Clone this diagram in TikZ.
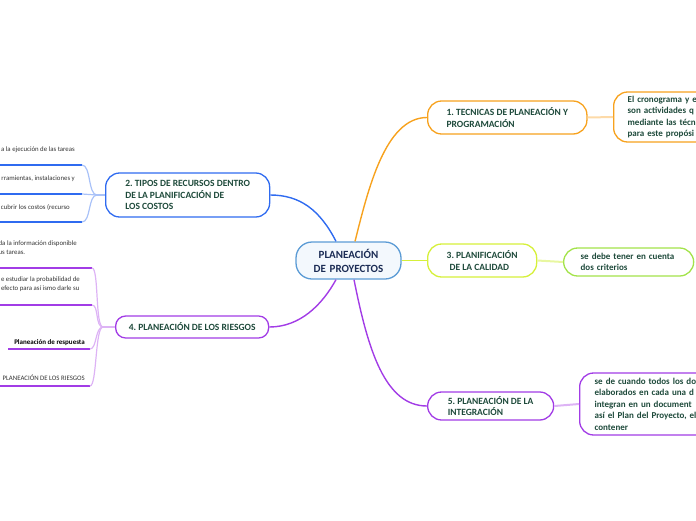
\documentclass[tikz,border=0pt]{standalone}
\usepackage{fontspec}
\setmainfont{Carlito}
\frenchspacing

\definecolor{txtgreen}{HTML}{1E4A3B}
\definecolor{navy}{HTML}{1B2C55}
\definecolor{cblue}{HTML}{5B9BD5}
\definecolor{cpale}{HTML}{F3F8FD}
\definecolor{borange}{HTML}{F7A21E}
\definecolor{lorange}{HTML}{FDDAA8}
\definecolor{byellow}{HTML}{D6F03A}
\definecolor{lyellow}{HTML}{E8F7A0}
\definecolor{bgreen}{HTML}{A3E34A}
\definecolor{bblue}{HTML}{2F6BF0}
\definecolor{lblue}{HTML}{A9C2F8}
\definecolor{bpurple}{HTML}{A23CE6}
\definecolor{lpurple}{HTML}{DDB3F5}

\tikzset{
  topic/.style={draw, fill=white, line width=1.3pt, rounded corners=14pt, anchor=west,
    align=left, text=txtgreen, inner xsep=19pt, font=\bfseries\fontsize{9.5}{11.5}\selectfont},
  detail/.style={topic, font=\bfseries\fontsize{9}{11.5}\selectfont},
  leaf/.style={anchor=east, inner sep=0pt, align=left, text=black!80,
    font=\fontsize{6.8}{9}\selectfont},
  branch/.style={line width=1.4pt},
  twig/.style={line width=1.2pt},
}

\begin{document}
\begin{tikzpicture}[x=1pt,y=-1pt]
  \useasboundingbox (0,0) rectangle (696,520);
  \clip (0,0) rectangle (696,520);

  % central topic and branches
  \node[topic, draw=cblue, fill=cpale, anchor=center, align=center, text=navy, inner xsep=4pt,
    text width=97pt, minimum height=37pt, rounded corners=16pt,
    font=\bfseries\fontsize{11}{14}\selectfont] (c) at (348.5,260.5) {PLANEACIÓN\\DE PROYECTOS};

  \node[topic, draw=borange, minimum width=158pt, minimum height=33pt] (n1) at (427,117.5)
    {1. TECNICAS DE PLANEACIÓN Y\\PROGRAMACIÓN};
  \node[topic, draw=bblue, minimum width=164pt, minimum height=44pt] (n2) at (105,195)
    {2. TIPOS DE RECURSOS DENTRO\\DE LA PLANIFICACIÓN DE\\LOS COSTOS};
  \node[topic, draw=byellow, minimum width=109pt, minimum height=33pt] (n3) at (427,260.5)
    {3. PLANIFICACIÓN\\\hspace*{3pt}DE LA CALIDAD};
  \node[topic, draw=bpurple, inner xsep=12pt, minimum width=153pt, minimum height=22pt,
    rounded corners=10pt] (n4) at (115,327) {4. PLANEACIÓN DE LOS RIESGOS};
  \node[topic, draw=bpurple, inner xsep=20pt, minimum width=126pt, minimum height=28pt] (n5) at (427,406)
    {5. PLANEACIÓN DE LA\\INTEGRACIÓN};

  \draw[branch, borange] ([xshift=6.5pt]c.north) .. controls (368,190) and (385,117.5) .. (n1.west);
  \draw[branch, bblue] ([xshift=-12.5pt]c.north) .. controls (320,210) and (300,195) .. (n2.east);
  \draw[branch, byellow] (c.east) -- (n3.west);
  \draw[branch, bpurple] ([xshift=-12.5pt]c.south) .. controls (322,305) and (300,327) .. (n4.east);
  \draw[branch, bpurple] ([xshift=5.5pt]c.south) .. controls (368,350) and (385,406) .. (n5.west);

  % right side details
  \node[detail, draw=borange, inner xsep=14pt, text width=120pt, minimum height=50pt] (k1) at (613,117)
    {El cronograma y e\\son actividades q\\mediante las técn\\para este propósi};
  \node[detail, draw=bgreen, inner xsep=17pt, text width=96pt, minimum height=28pt] (k3) at (563,262)
    {se debe tener en cuenta\\dos criterios};
  \node[detail, draw=bpurple, inner xsep=15pt, text width=120pt, minimum height=62pt] (k5) at (579,404)
    {se de cuando todos los do\\elaborados en cada una d\\integran en un document\\así el Plan del Proyecto, el\\contener};

  \draw[twig, line width=2pt, lorange] (n1.east) -- (k1.west);
  \draw[twig, line width=2pt, lyellow] (n3.east) -- (k3.west);
  \draw[twig, line width=2pt, lpurple] (n5.east) -- (k5.west);

  % left side details of 2
  \node[leaf] (a1) at (75,150) {a la ejecución de las tareas};
  \node[leaf] (a2) at (75,179) {rramientas, instalaciones y};
  \node[leaf] (a3) at (70,207) {cubrir los costos (recurso};
  \coordinate (j2) at (97,195);
  \coordinate (u21) at (82,165);
  \coordinate (u22) at (82,194);
  \coordinate (u23) at (82,222);
  \draw[line width=1.5pt, bblue] (-2,165) -- (u21);
  \draw[line width=1.5pt, bblue] (-2,194) -- (u22);
  \draw[line width=1.5pt, bblue] (-2,222) -- (u23);
  \draw[twig, lblue] (n2.west) -- (j2);
  \draw[twig, lblue] (j2) .. controls (88,195) and (91,165) .. (u21);
  \draw[twig, lblue] (j2) -- (u22);
  \draw[twig, lblue] (j2) .. controls (88,195) and (91,222) .. (u23);

  % left side details of 4
  \node[leaf] (b1) at (77,247.5) {da la información disponible\\us tareas.};
  \node[leaf] (b2) at (80,284.5) {e estudiar la probabilidad de\\efecto para así ismo darle su};
  \node[leaf, text=black, font=\bfseries\fontsize{7}{8}\selectfont] (b3) at (85,343) {Planeación de respuesta};
  \node[leaf] (b4) at (85,378) {PLANEACIÓN DE LOS RIESGOS};
  \coordinate (j4) at (103,327);
  \coordinate (u41) at (92,268);
  \coordinate (u42) at (92,305);
  \coordinate (u43) at (90,349);
  \coordinate (u44) at (90,386);
  \draw[line width=1.5pt, bpurple] (-2,268) -- (u41);
  \draw[line width=1.5pt, bpurple] (-2,305) -- (u42);
  \draw[line width=2.5pt, bpurple] (8,349) -- (u43);
  \draw[line width=1.5pt, bpurple] (-2,386) -- (u44);
  \draw[twig, lpurple] (n4.west) -- (j4);
  \draw[twig, lpurple] (j4) .. controls (95,327) and (99,268) .. (u41);
  \draw[twig, lpurple] (j4) .. controls (95,327) and (99,305) .. (u42);
  \draw[twig, lpurple] (j4) .. controls (95,327) and (97,349) .. (u43);
  \draw[twig, lpurple] (j4) .. controls (95,327) and (97,386) .. (u44);
\end{tikzpicture}
\end{document}
